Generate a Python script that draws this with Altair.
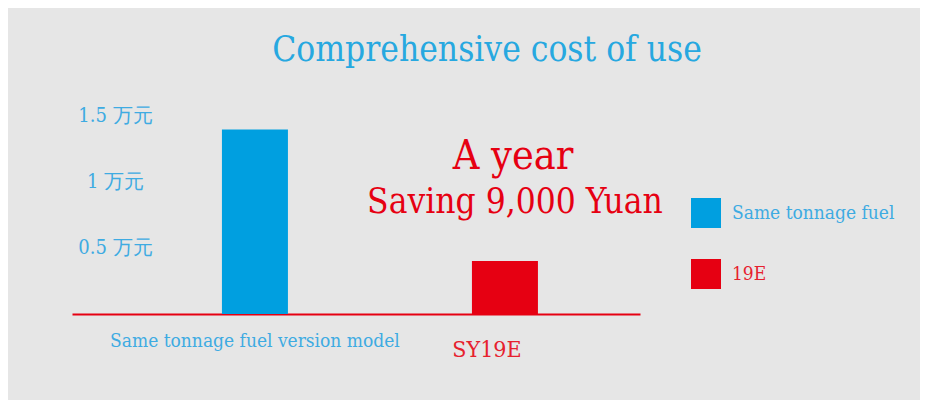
import altair as alt
import pandas as pd

# ---- data ----
categories = ["Same tonnage fuel version model", "SY19E"]
legend_names = ["Same tonnage fuel", "19E"]
costs = [1.39, 0.40]
y_ticks = [0.5, 1, 1.5]
notes = ["A year", "Saving 9,000 Yuan"]

BLUE = "#009fe0"
RED = "#e60012"
LRED = "#e6212e"
LBLUE = "#3eabe2"
FONT = "DejaVu Serif Condensed"

bars_df = pd.DataFrame({"model": categories, "series": legend_names, "cost": costs})

x_enc = alt.X(
    "model:N",
    sort=categories,
    scale=alt.Scale(domain=categories, paddingInner=0.736, paddingOuter=0.504, align=0.595),
    axis=alt.Axis(
        title=None,
        domainColor=RED,
        domainWidth=2,
        ticks=False,
        labelAngle=0,
        labelFont=FONT,
        labelBaseline="alphabetic",
        labelColor={"condition": {"test": "datum.value == 'SY19E'", "value": LRED}, "value": LBLUE},
        labelFontSize={"condition": {"test": "datum.value == 'SY19E'", "value": 23}, "value": 19},
        labelPadding={"condition": {"test": "datum.value == 'SY19E'", "value": 42}, "value": 32},
        labelOffset={"condition": {"test": "datum.value == 'SY19E'", "value": -18}, "value": 0},
        labelLimit=400,
    ),
)

y_enc = alt.Y(
    "cost:Q",
    scale=alt.Scale(domain=[0, 1.5], nice=False),
    axis=alt.Axis(
        title=None,
        domain=False,
        ticks=False,
        grid=False,
        values=y_ticks,
        labelExpr="datum.value + ' 万元'",
        labelAlign="center",
        labelBaseline="middle",
        labelPadding=-43,
        labelFont=FONT,
        labelFontSize=20,
        labelColor=LBLUE,
    ),
)

bars = alt.Chart(bars_df).mark_bar().encode(
    x=x_enc,
    y=y_enc,
    color=alt.Color(
        "series:N",
        scale=alt.Scale(domain=legend_names, range=[BLUE, RED]),
        legend=alt.Legend(
            title=None,
            orient="none",
            legendX=619,
            legendY=83,
            padding=0,
            symbolType="square",
            symbolSize=900,
            symbolStrokeWidth=0,
            labelFont=FONT,
            labelFontSize=19,
            labelOffset=11,
            labelLimit=300,
            rowPadding=31,
            labelColor={"expr": "datum.index == 0 ? '%s' : '%s'" % (LBLUE, LRED)},
        ),
    ),
)

note1 = alt.Chart(pd.DataFrame({"t": [notes[0]]})).mark_text(
    font=FONT, fontSize=41, color=RED, align="center", baseline="alphabetic"
).encode(text="t:N", x=alt.value(441), y=alt.value(54))

note2 = alt.Chart(pd.DataFrame({"t": [notes[1]]})).mark_text(
    font=FONT, fontSize=35, color=RED, align="center", baseline="alphabetic"
).encode(text="t:N", x=alt.value(443), y=alt.value(98))

chart = (
    alt.layer(bars, note1, note2)
    .properties(
        width=568,
        height=199,
        title=alt.Title(
            "Comprehensive cost of use",
            font=FONT,
            fontSize=35,
            fontWeight="normal",
            color="#27a8e0",
            anchor="middle",
            dx=131,
            offset=9,
            baseline="alphabetic",
        ),
        autosize=alt.AutoSizeParams(type="none"),
        padding={"left": 64, "top": 107, "right": 280, "bottom": 86},
        background="#e6e6e6",
    )
    .configure_view(stroke=None)
)

chart.save("out.html", embed_options={"renderer": "svg", "actions": False})
